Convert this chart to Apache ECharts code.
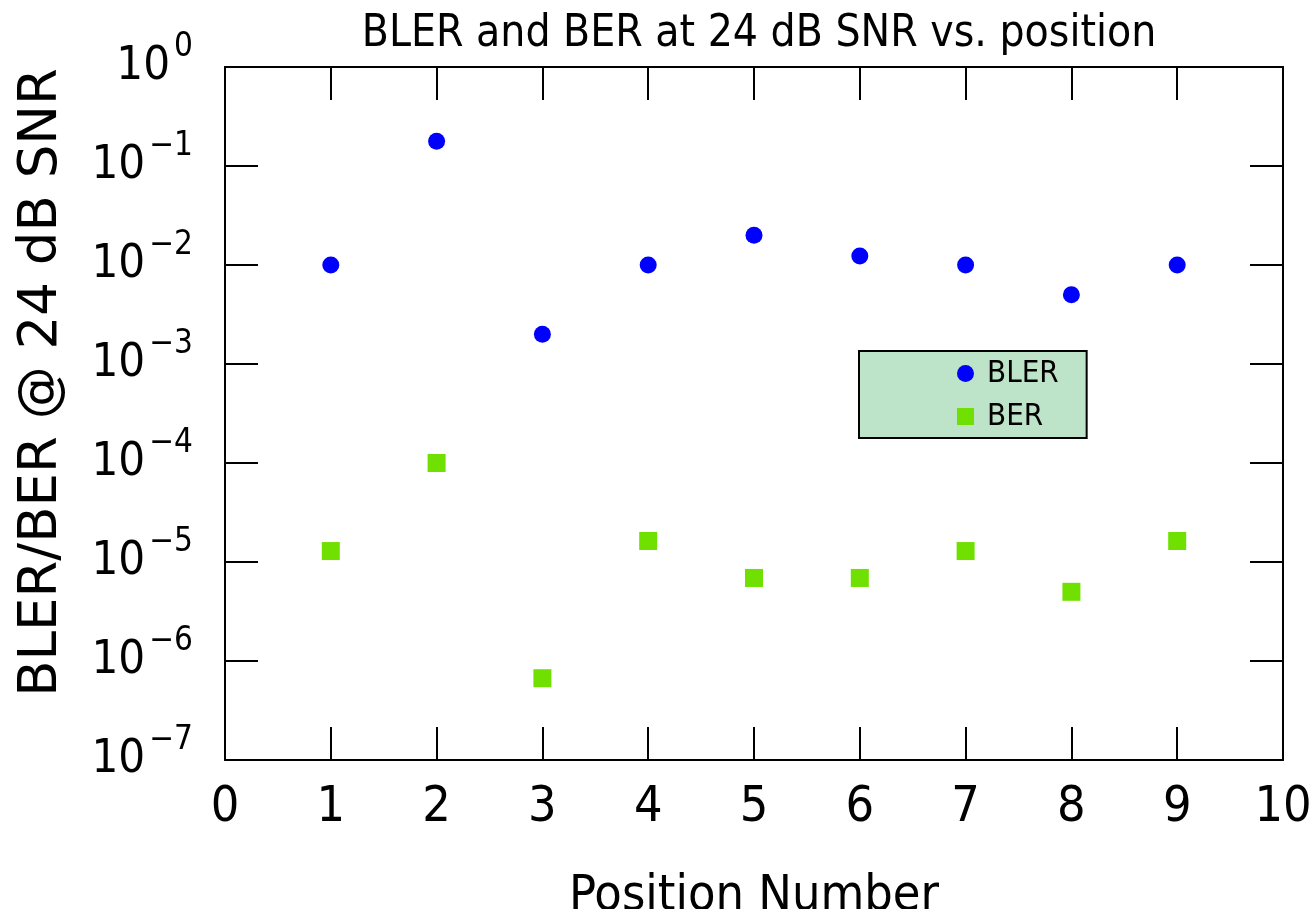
<!DOCTYPE html>
<html>
<head>
<meta charset="utf-8">
<script src="https://cdn.jsdelivr.net/npm/echarts@6/dist/echarts.min.js"></script>
<style>
html,body{margin:0;padding:0;background:#fff;}
#chart{width:1309px;height:909px;}
</style>
</head>
<body>
<div id="chart"></div>
<script>
var positions = [1, 2, 3, 4, 5, 6, 7, 8, 9];
var bler = [1.0e-2, 1.78e-1, 2.0e-3, 1.0e-2, 2.0e-2, 1.23e-2, 1.0e-2, 5.0e-3, 1.0e-2];
var ber = [1.29e-5, 1.0e-4, 6.7e-7, 1.63e-5, 6.9e-6, 6.9e-6, 1.29e-5, 5.0e-6, 1.63e-5];
var xTicks = [0, 1, 2, 3, 4, 5, 6, 7, 8, 9, 10];
var yExponents = [-7, -6, -5, -4, -3, -2, -1, 0];

var FONT = '"DejaVu Sans Condensed", "Liberation Sans Narrow", sans-serif';
var FONT_WIDE = '"DejaVu Sans", sans-serif';

function pairs(xs, ys) { return xs.map(function (x, i) { return [x, ys[i]]; }); }

var chart = echarts.init(document.getElementById('chart'));
var tickStyle = { show: true, inside: true, length: 33, lineStyle: { color: '#000', width: 2 } };
var lineStyle = { show: true, onZero: false, lineStyle: { color: '#000', width: 2 } };

chart.setOption({
  animation: false,
  backgroundColor: '#fff',
  title: {
    text: 'BLER and BER at 24 dB SNR vs. position',
    left: 754, top: 8, textAlign: 'center',
    textStyle: { fontFamily: FONT, fontWeight: 'normal', fontSize: 44, color: '#000' }
  },
  legend: {
    orient: 'vertical',
    left: 859, top: 351,
    backgroundColor: '#bde3c9',
    borderColor: '#000', borderWidth: 2,
    padding: [7, 28, 6, 98],
    itemGap: 12,
    itemWidth: 17, itemHeight: 17,
    textStyle: { fontFamily: FONT, fontSize: 31, lineHeight: 24, color: '#000', padding: [0, 0, 0, 8] },
    data: [
      { name: 'BLER', icon: 'circle', itemStyle: { color: '#0000ff', opacity: 1 } },
      { name: 'BER', icon: 'rect', itemStyle: { color: '#6fe000', opacity: 1 } }
    ]
  },
  grid: { left: 225, right: 26, top: 67, bottom: 149, containLabel: false, outerBoundsMode: 'none' },
  xAxis: [{
    type: 'value', min: xTicks[0], max: xTicks[xTicks.length - 1], interval: 1,
    position: 'bottom',
    name: 'Position Number', nameLocation: 'middle', nameGap: 112,
    nameTextStyle: { fontFamily: FONT, fontSize: 50, color: '#000' },
    axisLine: lineStyle, axisTick: tickStyle,
    axisLabel: { fontFamily: FONT, fontSize: 50, color: '#000', margin: 23 },
    splitLine: { show: false }
  }, {
    type: 'value', min: xTicks[0], max: xTicks[xTicks.length - 1], interval: 1,
    position: 'top',
    axisLine: lineStyle, axisTick: tickStyle,
    axisLabel: { show: false }, splitLine: { show: false }
  }],
  yAxis: [{
    type: 'log', logBase: 10,
    min: Math.pow(10, yExponents[0]), max: Math.pow(10, yExponents[yExponents.length - 1]),
    interval: 1,
    position: 'left',
    name: 'BLER/BER @ 24 dB SNR', nameLocation: 'middle', nameGap: 156,
    nameTextStyle: { fontFamily: FONT_WIDE, fontSize: 53, color: '#000', padding: [0, 0, 0, 62] },
    axisLine: lineStyle, axisTick: tickStyle, minorTick: { show: false },
    splitLine: { show: false },
    axisLabel: {
      margin: 32,
      formatter: function (v) {
        var e = Math.round(Math.log10(v));
        var s = e < 0 ? '\u2212' + (-e) : String(e);
        return '{b|10}{s|' + s + '}';
      },
      rich: {
        b: { fontFamily: FONT, fontSize: 47, lineHeight: 47, color: '#000', verticalAlign: 'middle' },
        s: { fontFamily: FONT, fontSize: 33, lineHeight: 72, color: '#000', verticalAlign: 'top', padding: [0, 0, 0, 4] }
      }
    }
  }, {
    type: 'log', logBase: 10,
    min: Math.pow(10, yExponents[0]), max: Math.pow(10, yExponents[yExponents.length - 1]),
    interval: 1,
    position: 'right',
    axisLine: lineStyle, axisTick: tickStyle, minorTick: { show: false },
    splitLine: { show: false }, axisLabel: { show: false }
  }],
  series: [{
    name: 'BLER', type: 'scatter', xAxisIndex: 0, yAxisIndex: 0,
    symbol: 'circle', symbolSize: 17,
    itemStyle: { color: '#0000ff', opacity: 1 },
    data: pairs(positions, bler)
  }, {
    name: 'BER', type: 'scatter', xAxisIndex: 0, yAxisIndex: 0,
    symbol: 'rect', symbolSize: 18,
    itemStyle: { color: '#6fe000', opacity: 1 },
    data: pairs(positions, ber)
  }]
});
</script>
</body>
</html>
